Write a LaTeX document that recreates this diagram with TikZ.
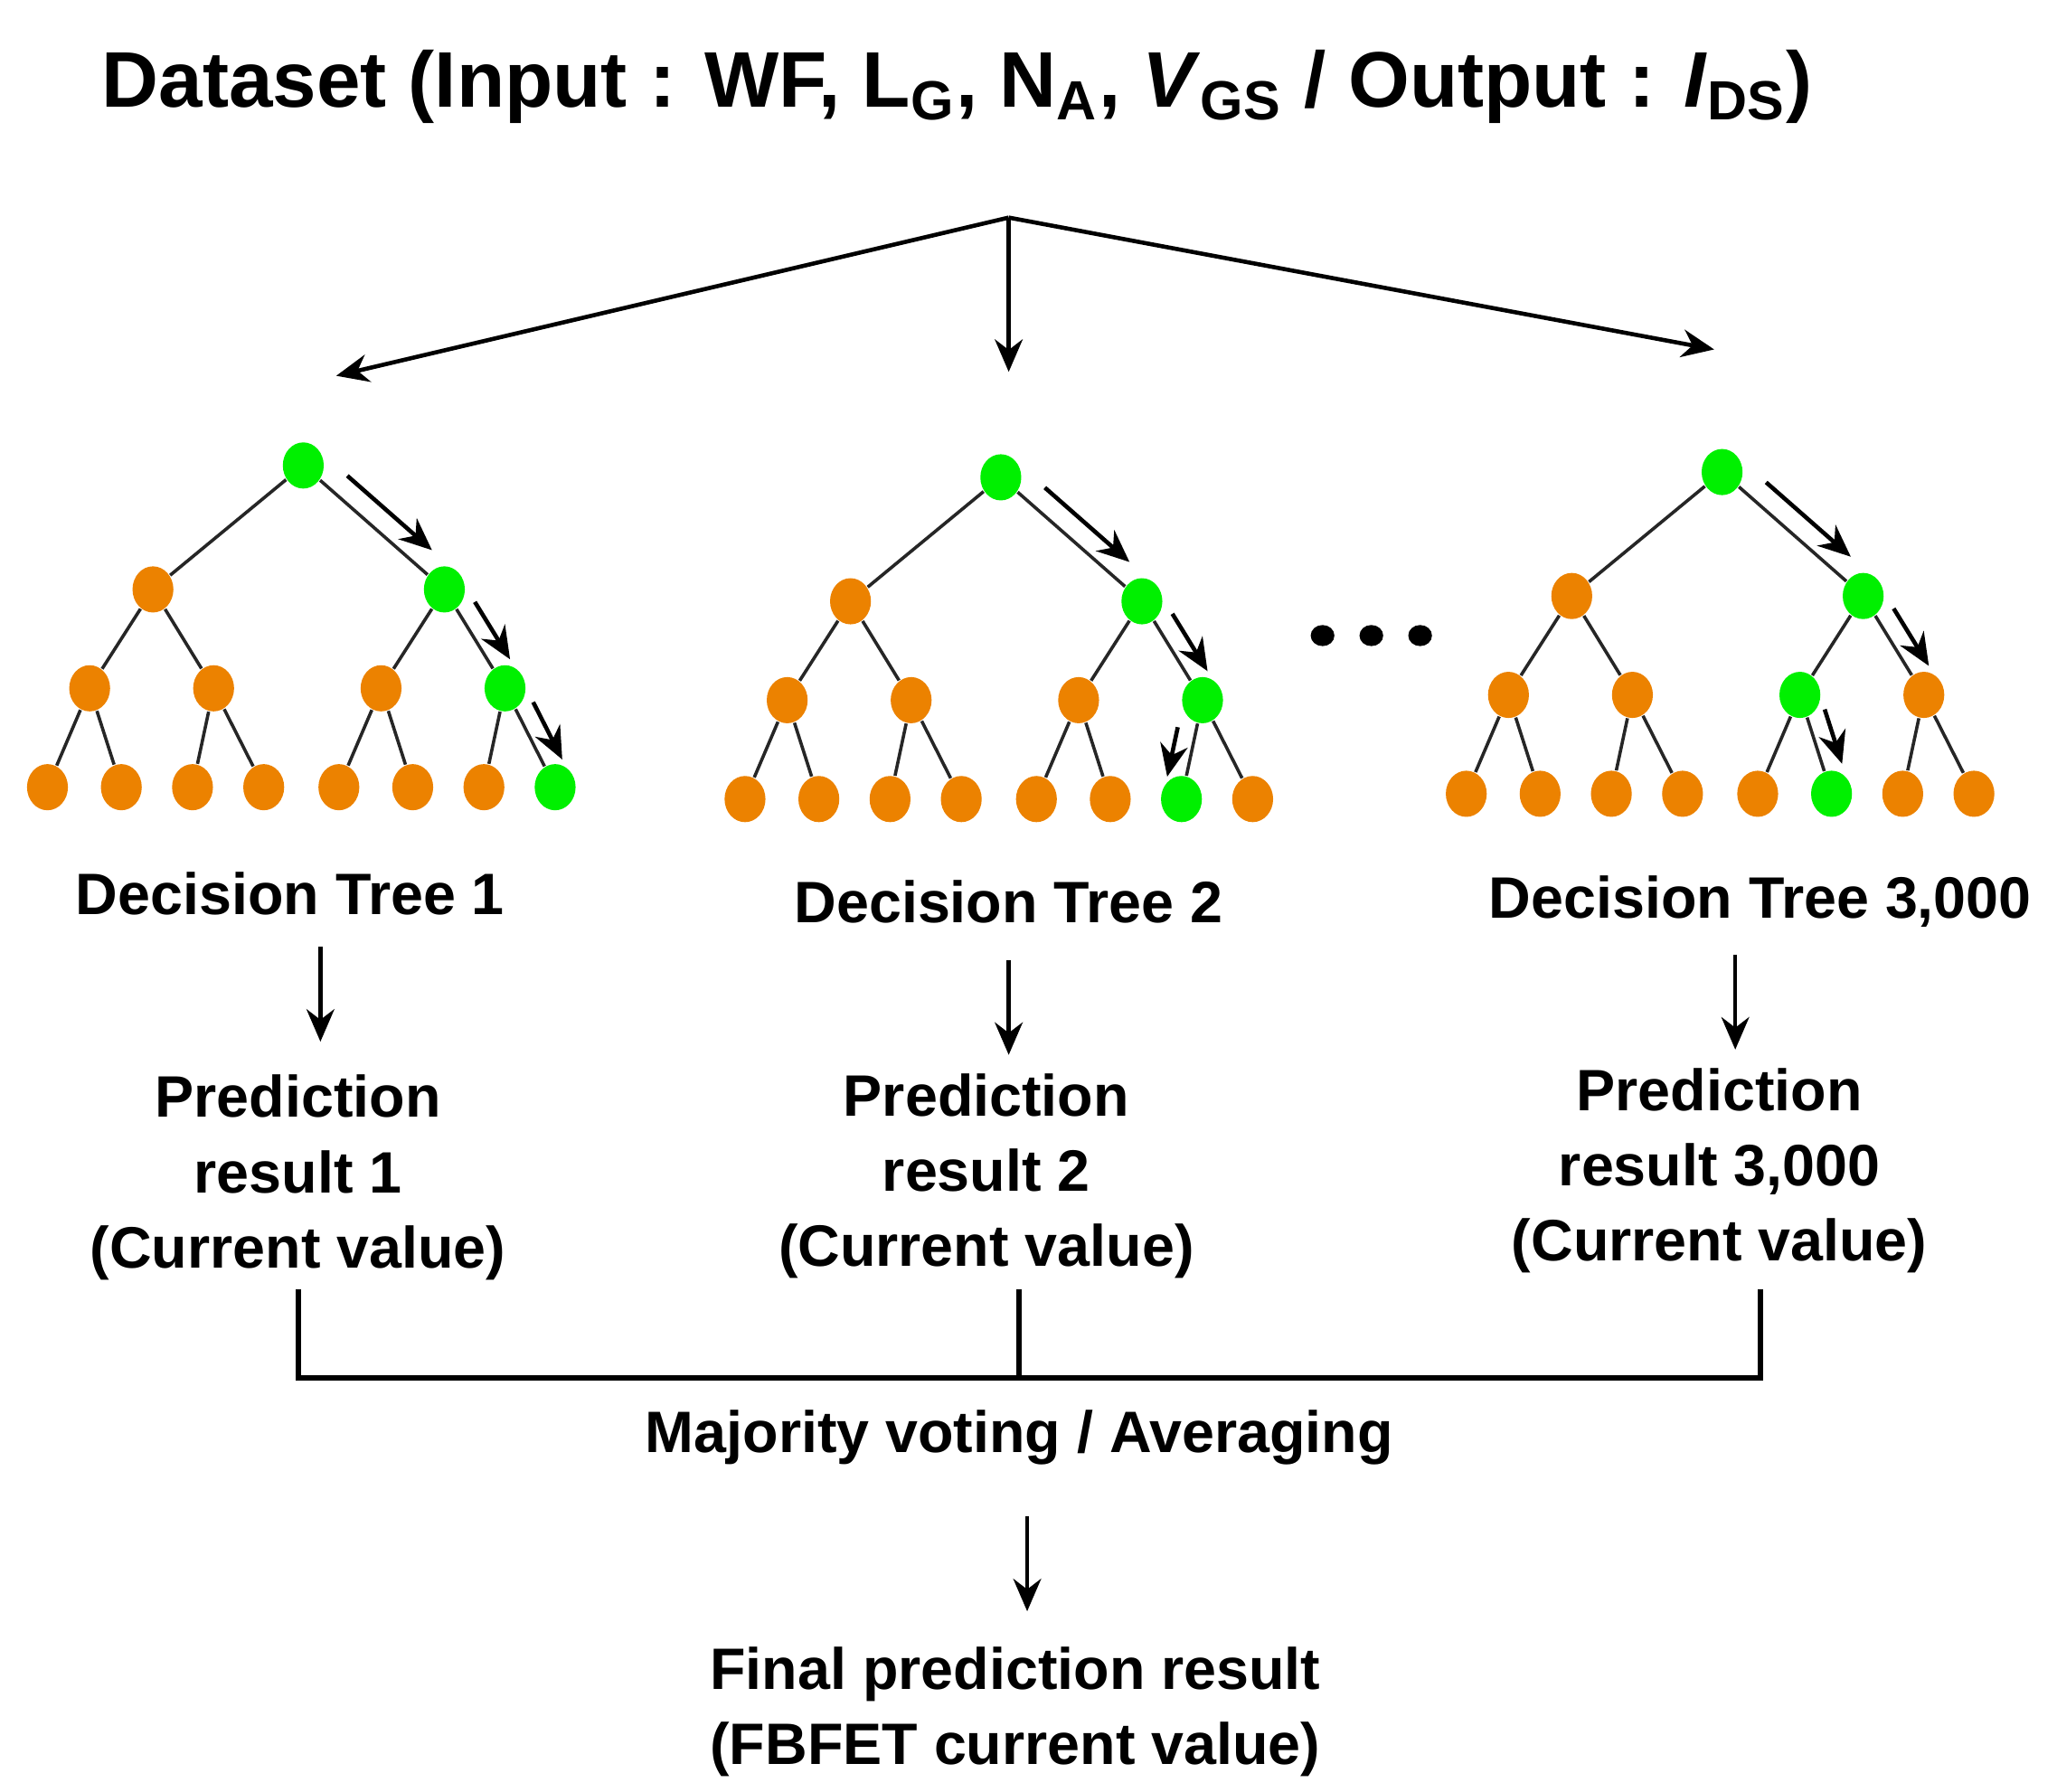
\documentclass[tikz,border=0pt]{standalone}
\usepackage{fontspec}
\setmainfont{Liberation Sans}
\usetikzlibrary{arrows.meta,calc,shapes.geometric}
\definecolor{org}{RGB}{236,130,0}
\definecolor{grn}{RGB}{0,240,0}
\tikzset{
 nd/.style={ellipse,inner sep=0pt,minimum width=0.31cm,minimum height=0.35cm,fill=org},
 gr/.style={fill=grn},
 edge/.style={line width=0.7pt,black!85},
 arr/.style={line width=0.9pt,-{Stealth[length=7pt,width=6pt]}},
 big/.style={font=\bfseries\fontsize{12.6}{16}\selectfont,align=center},
 lbl/.style={font=\bfseries\fontsize{12.6}{16.2}\selectfont,align=center},
}
\newcommand\mktree[3]{%
 \begin{scope}[shift={(#2,#3)}]
  \node[nd,#1r/.try] (#1r) at (230,353) {};
  \node[nd,#1a/.try] (#1a) at (116,447) {};
  \node[nd,#1b/.try] (#1b) at (337,447) {};
  \node[nd,#1aa/.try] (#1aa) at (68,522) {};
  \node[nd,#1ab/.try] (#1ab) at (162,522) {};
  \node[nd,#1ba/.try] (#1ba) at (289,522) {};
  \node[nd,#1bb/.try] (#1bb) at (383,522) {};
  \node[nd,#1aaa/.try] (#1aaa) at (36,597) {};
  \node[nd,#1aab/.try] (#1aab) at (92,597) {};
  \node[nd,#1aba/.try] (#1aba) at (146,597) {};
  \node[nd,#1abb/.try] (#1abb) at (200,597) {};
  \node[nd,#1baa/.try] (#1baa) at (257,597) {};
  \node[nd,#1bab/.try] (#1bab) at (313,597) {};
  \node[nd,#1bba/.try] (#1bba) at (367,597) {};
  \node[nd,#1bbb/.try] (#1bbb) at (421,597) {};
  \foreach \p/\c in {r/a,r/b,a/aa,a/ab,b/ba,b/bb,aa/aaa,aa/aab,ab/aba,ab/abb,ba/baa,ba/bab,bb/bba,bb/bbb}
   \draw[edge] (#1\p) -- (#1\c);
 \end{scope}}
\tikzset{Ar/.style={gr},Ab/.style={gr},Abb/.style={gr},Abbb/.style={gr},
 Br/.style={gr},Bb/.style={gr},Bbb/.style={gr},Bbba/.style={gr},
 Cr/.style={gr},Cb/.style={gr},Cba/.style={gr},Cbab/.style={gr}}
\begin{document}
\begin{tikzpicture}[x=0.01cm,y=-0.01cm]
\useasboundingbox (0,0) rectangle (1560,1359);
\node[font=\bfseries\fontsize{17}{20}\selectfont] (title) at (726,66)
 {Dataset (Input : WF, L\textsubscript{G}, N\textsubscript{A}, \textit{V}\textsubscript{GS} / Output : \textit{I}\textsubscript{DS})};
\coordinate (top) at (765,165);
\coordinate (t1) at (255,285);
\coordinate (t2) at (765,282);
\coordinate (t3) at (1300,265);
\draw[arr] (top) -- (t1);
\draw[arr] (top) -- (t2);
\draw[arr] (top) -- (t3);
\mktree{A}{0}{0}
\mktree{B}{529}{9}
\mktree{C}{1076}{5}
% path arrows
\draw[arr] ($(Ar)!.2!(Ab)+(12,-11)$) -- ($(Ar)!.8!(Ab)+(12,-11)$);
\draw[arr] ($(Ab)!.22!(Abb)+(13,-7)$) -- ($(Ab)!.8!(Abb)+(13,-7)$);
\draw[arr] ($(Abb)!.22!(Abbb)+(13,-6)$) -- ($(Abb)!.8!(Abbb)+(13,-6)$);
\draw[arr] ($(Br)!.2!(Bb)+(12,-11)$) -- ($(Br)!.8!(Bb)+(12,-11)$);
\draw[arr] ($(Bb)!.22!(Bbb)+(13,-7)$) -- ($(Bb)!.8!(Bbb)+(13,-7)$);
\draw[arr] ($(Bbb)!.3!(Bbba)+(-14,-2)$) -- ($(Bbb)!.8!(Bbba)+(-14,-2)$);
\draw[arr] ($(Cr)!.2!(Cb)+(12,-11)$) -- ($(Cr)!.8!(Cb)+(12,-11)$);
\draw[arr] ($(Cb)!.22!(Cbb)+(13,-7)$) -- ($(Cb)!.8!(Cbb)+(13,-7)$);
\draw[arr] ($(Cba)!.2!(Cbab)+(14,-4)$) -- ($(Cba)!.75!(Cbab)+(14,-4)$);
% dots
\foreach \x [count=\i] in {1003,1040,1077} \fill (\x,482) ellipse (9 and 8) coordinate (dot\i);
% labels
\node[big] (d1) at (220,678) {Decision Tree 1};
\node[big] (d2) at (765,684) {Decision Tree 2};
\node[big] (d3) at (1335,684) {Decision Tree 3,000};
\coordinate (a1s) at (243,718); \coordinate (a1e) at (243,790);
\coordinate (a2s) at (765,728); \coordinate (a2e) at (765,800);
\coordinate (a3s) at (1316,724); \coordinate (a3e) at (1316,796);
\draw[arr] (a1s) -- (a1e);
\draw[arr] (a2s) -- (a2e);
\draw[arr] (a3s) -- (a3e);
\node[lbl] (p1) at (226,893) {Prediction\\result 1\\(Current value)};
\node[lbl] (p2) at (748,892) {Prediction\\result 2\\(Current value)};
\node[lbl] (p3) at (1304,888) {Prediction\\result 3,000\\(Current value)};
\coordinate (b1) at (226,978); \coordinate (b2) at (773,978); \coordinate (b3) at (1335,978);
\coordinate (h1) at (226,1045); \coordinate (h2) at (773,1045); \coordinate (h3) at (1335,1045);
\draw[line width=1.2pt] (b1) -- (h1) -- (h3) -- (b3);
\draw[line width=1.2pt] (b2) -- (h2);
\node[big] (mv) at (773,1090) {Majority voting / Averaging};
\coordinate (fs) at (779,1150); \coordinate (fe) at (779,1222);
\draw[arr] (fs) -- (fe);
\node[lbl] (fin) at (770,1298) {Final prediction result\\(FBFET current value)};
\end{tikzpicture}
\end{document}
